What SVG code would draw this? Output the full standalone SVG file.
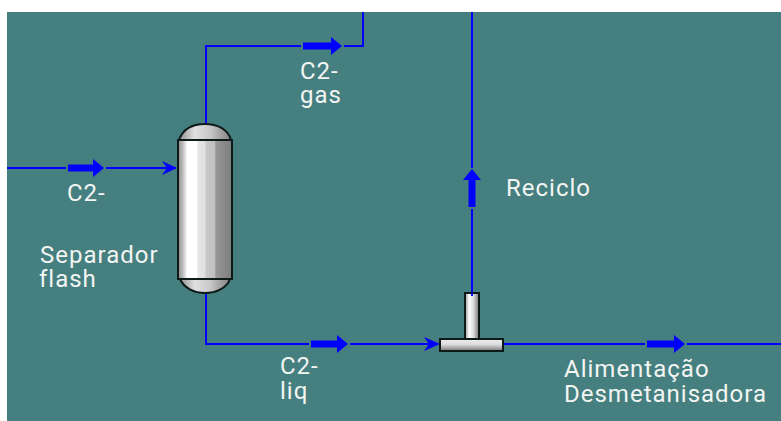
<svg xmlns="http://www.w3.org/2000/svg" width="781" height="421" viewBox="0 0 781 421">
<style>
.s{fill:none;stroke:#0000ff;stroke-width:2}
.b{fill:#0000ff;stroke:none}
.t{font-family:"Roboto","Liberation Sans",sans-serif;font-size:24px;letter-spacing:1px;fill:#f2f5f2}
.o{stroke:#0d1a1a;stroke-width:2}
</style>
<defs>
<linearGradient id="v" x1="0" x2="1" y1="0" y2="0">
<stop offset="0" stop-color="#8a8a8a"/><stop offset=".1" stop-color="#c4c4c4"/><stop offset=".17" stop-color="#fff"/><stop offset=".35" stop-color="#fff"/><stop offset=".37" stop-color="#e6e6e6"/><stop offset=".5" stop-color="#e0e0e0"/><stop offset=".52" stop-color="#c8c8c8"/><stop offset=".68" stop-color="#c0c0c0"/><stop offset=".7" stop-color="#989898"/><stop offset="1" stop-color="#7c7c7c"/>
</linearGradient>
<linearGradient id="d" x1="0" x2="1" y1="0" y2="0">
<stop offset="0" stop-color="#909090"/><stop offset=".3" stop-color="#e0e0e0"/><stop offset=".6" stop-color="#c8c8c8"/><stop offset="1" stop-color="#808080"/>
</linearGradient>
<linearGradient id="tv" x1="0" x2="1" y1="0" y2="0">
<stop offset="0" stop-color="#999"/><stop offset=".3" stop-color="#fff"/><stop offset=".6" stop-color="#ddd"/><stop offset="1" stop-color="#777"/>
</linearGradient>
<linearGradient id="th" x1="0" x2="0" y1="0" y2="1">
<stop offset="0" stop-color="#eee"/><stop offset=".45" stop-color="#ddd"/><stop offset="1" stop-color="#777"/>
</linearGradient>
</defs>
<rect x="0" y="0" width="781" height="421" fill="#fff"/>
<rect id="background" x="7" y="12" width="774" height="409" fill="#457f7f"/>
<g id="connectors">
<path class="s" d="M7 168H66M106 168H176"/>
<path class="b" d="M177 168L162 161L167 168L162 175Z"/>
<path class="s" d="M206 124V46H301M344 46H363V12"/>
<path class="s" d="M472 12V168M472 209V294"/>
<path class="s" d="M206 293V344H309M350 344H438"/>
<path class="b" d="M440 344L424 337L429 344L424 351Z"/>
<path class="s" d="M503 344H645M687 344H781"/>
<path class="b" d="M68 164.500H93V159L104 168L93 177V171.500H68Z"/>
<path class="b" d="M303 42.500H331V37L342 46L331 55V49.500H303Z"/>
<path class="b" d="M311 340.500H337V335L348 344L337 353V347.500H311Z"/>
<path class="b" d="M647 340.500H674V335L685 344L674 353V347.500H647Z"/>
<path class="b" d="M468.500 207V180H463L472 169L481 180H475.500V207Z"/>
</g>
<g id="separador">
<path class="o" fill="url(#d)" d="M179 140C183 129 193 124 205 124C217 124 228 129 231 140Z"/>
<path class="o" fill="url(#d)" d="M180 279C184 288 194 293 205 293C216 293 227 288 230 279Z"/>
<rect class="o" fill="url(#v)" x="178" y="140" width="54" height="139"/>
<text class="t" x="40" y="263">Separador</text>
<text class="t" x="39" y="287">flash</text>
</g>
<g id="tee">
<rect class="o" fill="url(#tv)" x="465" y="293" width="14" height="46"/>
<rect class="o" fill="url(#th)" x="440" y="339" width="63" height="12"/>
<path class="s" d="M472 293V296"/>
</g>
<g id="labels">
<text class="t" x="67" y="201">C2-</text>
<text class="t" x="300" y="79">C2-</text>
<text class="t" x="300" y="103">gas</text>
<text class="t" x="280" y="374">C2-</text>
<text class="t" x="280" y="399">liq</text>
<text class="t" x="506" y="196">Reciclo</text>
<text class="t" x="564" y="377">Alimentação</text>
<text class="t" x="564" y="402">Desmetanisadora</text>
</g>
</svg>
